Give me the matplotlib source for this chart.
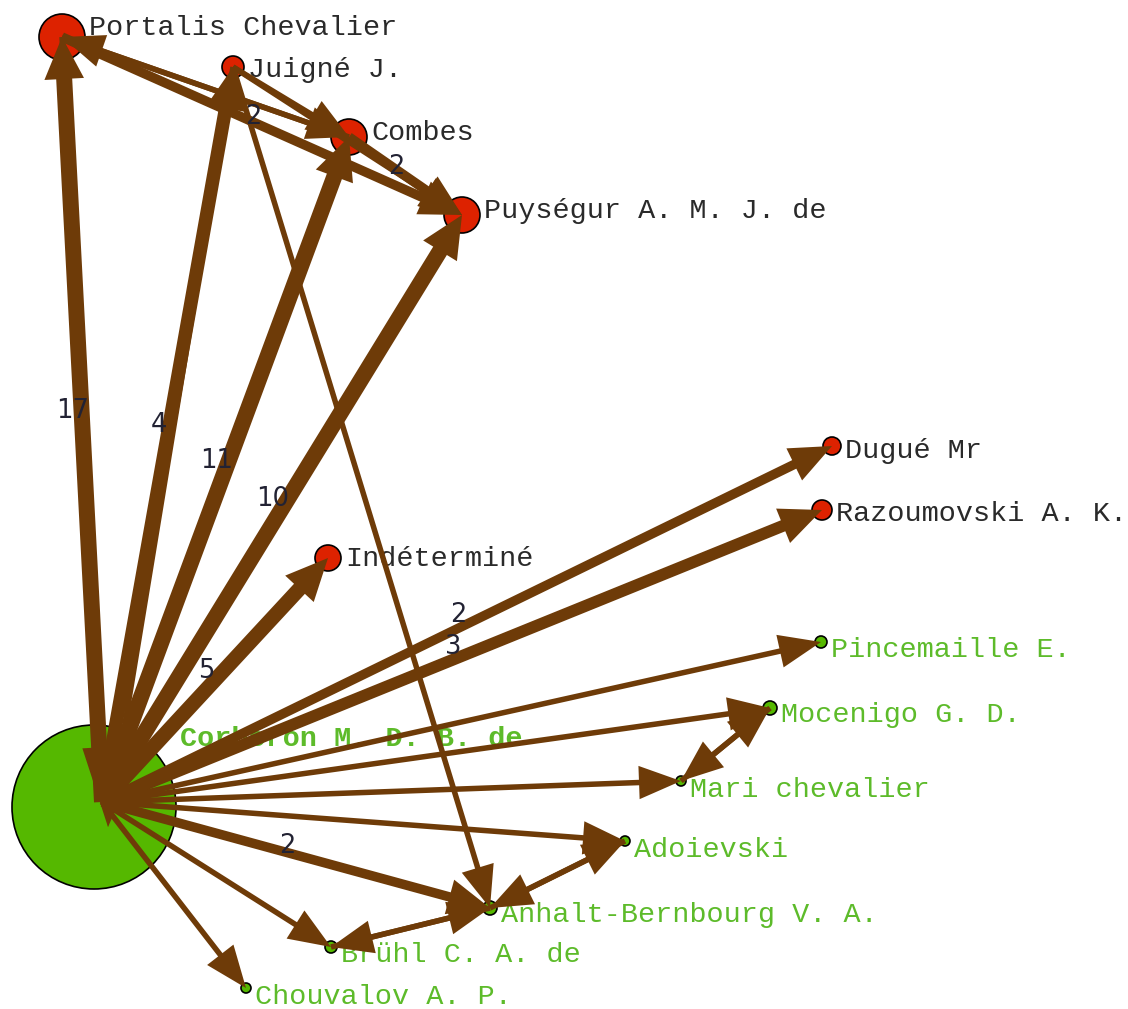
import numpy as np
import matplotlib.pyplot as plt
from matplotlib.patches import Circle, Polygon

# nodes (layout positions in pixels, y down)
node_names = ["Corberon M. D. B. de", "Portalis Chevalier", "Juigné J.", "Combes",
              "Puységur A. M. J. de", "Dugué Mr", "Razoumovski A. K.", "Indéterminé",
              "Pincemaille E.", "Mocenigo G. D.", "Mari chevalier", "Adoievski",
              "Anhalt-Bernbourg V. A.", "Brühl C. A. de", "Chouvalov A. P."]
node_x = [94, 62, 233, 349, 462, 832, 822, 328, 821, 770, 681, 625, 490, 331, 246]
node_y = [807, 37, 67, 137, 215, 446, 510, 558, 642, 708, 781, 841, 908, 947, 988]
node_r = [82, 23, 11, 18, 18, 9, 10, 13, 6, 7, 5, 5, 7, 6, 5]
node_group = ["b", "a", "a", "a", "a", "a", "a", "a", "b", "b", "b", "b", "b", "b", "b"]

# edges (source index, target index, weight)
edge_src = [0, 0, 0, 0, 0, 0, 0, 0, 0, 0, 0, 0, 0, 0,
            1, 2, 3, 1, 3, 2, 2, 1, 2, 10, 9, 12, 11, 12, 13]
edge_dst = [1, 2, 3, 4, 5, 6, 7, 8, 9, 10, 11, 12, 13, 14,
            0, 0, 1, 3, 4, 3, 4, 4, 12, 9, 10, 11, 12, 13, 12]
edge_weight = [17, 4, 11, 10, 2, 3, 5, 1, 1, 1, 1, 2, 1, 1,
               1, 1, 1, 1, 2, 1, 1, 2, 1, 1, 1, 1, 1, 1, 1]

W, H = 1128, 1009
red = "#dd2200"
green = "#55b800"
brown = "#6e3b08"

fig = plt.figure(figsize=(W / 100, H / 100), dpi=100)
ax = fig.add_axes([0, 0, 1, 1])
ax.set_xlim(0, W)
ax.set_ylim(H, 0)
ax.axis("off")

# nodes
for i, name in enumerate(node_names):
    col = red if node_group[i] == "a" else green
    ax.add_patch(Circle((node_x[i], node_y[i]), node_r[i], facecolor=col,
                        edgecolor="black", lw=1.2, zorder=1))
    tcol = "#2a2a2a" if node_group[i] == "a" else "#5dbb2a"
    ax.text(node_x[i] + node_r[i] + 4, node_y[i] - node_r[i] + 21, name,
            fontfamily="Liberation Mono", fontsize=20.5, color=tcol,
            fontweight="bold" if i == 0 else "normal",
            ha="left", va="baseline", zorder=2)


def edge_px(w):
    return min(16.0, 5.5 + 4.0 * np.log2(w))


# edges
for s, t, w in zip(edge_src, edge_dst, edge_weight):
    x0, y0 = node_x[s], node_y[s]
    x1, y1 = node_x[t], node_y[t]
    if s == 0:
        x0, y0 = x0 + 8, y0 - 5
    if t == 0:
        x1, y1 = x1 + 14, y1 + 20
    d = np.array([x1 - x0, y1 - y0], dtype=float)
    d /= np.hypot(*d)
    n = np.array([-d[1], d[0]])
    lw = edge_px(w)
    hl = 42 if t != 0 else 80
    hw = 30 + 0.6 * lw if t != 0 else 42
    tip = np.array([x1, y1], dtype=float)
    base = tip - hl * d
    ax.plot([x0, base[0] + 4 * d[0]], [y0, base[1] + 4 * d[1]], color=brown,
            lw=lw * 0.72, solid_capstyle="butt", zorder=3)
    ax.add_patch(Polygon([tip, base + n * hw / 2, base - n * hw / 2],
                         closed=True, facecolor=brown, edgecolor="none", zorder=3))
    if w > 1:
        mx, my = (x0 + x1) / 2 - 9, (y0 + y1) / 2 - 9
        ax.text(mx, my, str(w), fontfamily="DejaVu Sans", fontsize=18.5,
                color="#222233", ha="center", va="center", zorder=4)

fig.savefig("out.png", dpi=100)
